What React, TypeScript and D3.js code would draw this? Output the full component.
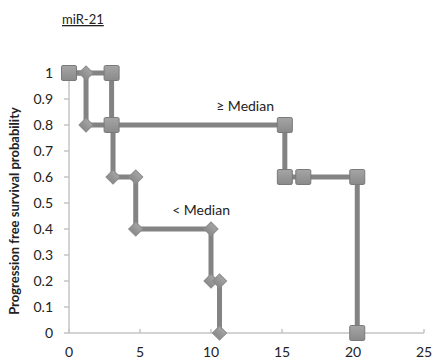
import React from "react";
import * as d3 from "d3";

const title = "miR-21";
const yLabel = "Progression free survival probability";
const xTicks = [0, 5, 10, 15, 20, 25];
const yTicks = [0, 0.1, 0.2, 0.3, 0.4, 0.5, 0.6, 0.7, 0.8, 0.9, 1];

// ≥ Median (squares)
const highTime = [0, 3, 3, 15.2, 15.2, 16.5, 20.3, 20.3];
const highSurv = [1, 1, 0.8, 0.8, 0.6, 0.6, 0.6, 0];
// < Median (diamonds)
const lowTime = [0, 1.2, 1.2, 3.1, 3.1, 4.7, 4.7, 10.0, 10.0, 10.6, 10.6];
const lowSurv = [1, 1, 0.8, 0.8, 0.6, 0.6, 0.4, 0.4, 0.2, 0.2, 0];
const lowMarkers = [false, true, true, false, true, true, true, true, true, true, true];

const labels = [
  { text: "≥ Median", t: 12.4, s: 0.853 },
  { text: "< Median", t: 9.3, s: 0.455 },
];

export default function App() {
  const x = d3.scaleLinear().domain([0, 25]).range([69, 424]);
  const y = d3.scaleLinear().domain([0, 1]).range([333, 73]);
  const path = (ts: number[], ss: number[]) =>
    d3
      .line<number>()
      .x((_, i) => x(ts[i]))
      .y((_, i) => y(ss[i]))(ts) as string;
  const font = "Lato, 'Open Sans', sans-serif";
  const lineColor = "#838383";
  const sq = 15;
  const dm = 8;
  return (
    <svg
      width={433}
      height={359}
      style={{ position: "absolute", left: 0, top: 0, background: "#fff" }}
      fontFamily={font}
    >
      <defs>
        <linearGradient id="mk" x1="0" y1="0" x2="0" y2="1">
          <stop offset="0" stopColor="#a5a5a5" />
          <stop offset="1" stopColor="#8a8a8a" />
        </linearGradient>
      </defs>
      <text x={62} y={24} fontSize={13} fill="#222" textDecoration="underline">
        {title}
      </text>
      {/* axes */}
      <line x1={x(0)} x2={x(0)} y1={y(1)} y2={y(0)} stroke="#c4c4c4" strokeWidth={1.5} />
      <line x1={x(0)} x2={x(25)} y1={y(0)} y2={y(0)} stroke="#c4c4c4" strokeWidth={1.5} />
      {yTicks.map((t) => (
        <g key={"y" + t}>
          <line x1={x(0) - 5} x2={x(0)} y1={y(t)} y2={y(t)} stroke="#c4c4c4" strokeWidth={1.5} />
          <text x={x(0) - 16} y={y(t)} dy="0.36em" fontSize={14} textAnchor="end" fill="#222">
            {t}
          </text>
        </g>
      ))}
      {xTicks.map((t) => (
        <g key={"x" + t}>
          <line x1={x(t)} x2={x(t)} y1={y(0)} y2={y(0) - 4} stroke="#c4c4c4" strokeWidth={1.5} />
          <text x={x(t)} y={y(0) + 24} fontSize={14} textAnchor="middle" fill="#222">
            {t}
          </text>
        </g>
      ))}
      <text
        transform={`translate(19,${(y(0) + y(1)) / 2 + 8}) rotate(-90)`}
        fontSize={13}
        fontWeight="bold"
        textAnchor="middle"
        fill="#222"
      >
        {yLabel}
      </text>
      {/* lines */}
      <path d={path(lowTime, lowSurv)} fill="none" stroke={lineColor} strokeWidth={5} />
      <path d={path(highTime, highSurv)} fill="none" stroke={lineColor} strokeWidth={5} />
      {/* diamonds */}
      {lowTime.map((t, i) =>
        lowMarkers[i] ? (
          <rect
            key={"d" + i}
            x={-dm / 2 - 1}
            y={-dm / 2 - 1}
            width={dm + 2}
            height={dm + 2}
            transform={`translate(${x(t)},${y(lowSurv[i])}) rotate(45)`}
            fill="url(#mk)"
            stroke="#8c8c8c"
            strokeWidth={1}
          />
        ) : null
      )}
      {/* squares */}
      {highTime.map((t, i) => (
        <rect
          key={"s" + i}
          x={x(t) - sq / 2}
          y={y(highSurv[i]) - sq / 2}
          width={sq}
          height={sq}
          rx={1.5}
          fill="url(#mk)"
          stroke="#7a7a7a"
          strokeWidth={1}
        />
      ))}
      {labels.map((l) => (
        <text key={l.text} x={x(l.t)} y={y(l.s)} fontSize={14} textAnchor="middle" fill="#222">
          {l.text}
        </text>
      ))}
    </svg>
  );
}
